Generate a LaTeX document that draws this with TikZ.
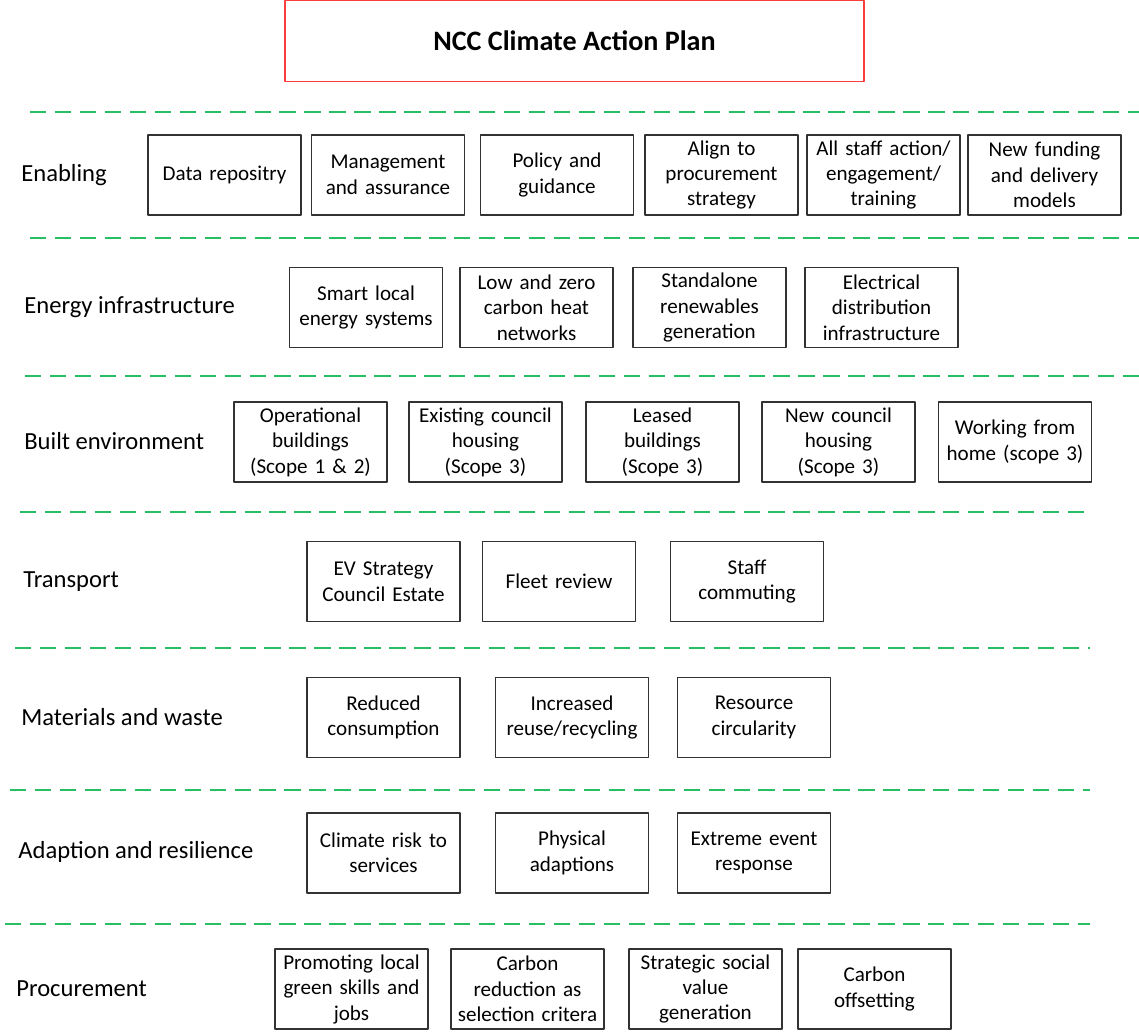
\documentclass[tikz,border=0pt]{standalone}
\usepackage{fontspec}
\setmainfont{Carlito}
\usepackage{tikz}
\definecolor{sepgreen}{RGB}{40,190,100}
\definecolor{titlered}{RGB}{250,60,60}
\definecolor{boxgray}{RGB}{50,50,50}
\tikzset{
	item/.style={draw=boxgray,line width=1pt,minimum width=3.06cm,minimum height=1.6cm,text width=2.9cm,align=center,inner sep=0pt,font=\fontsize{12}{14.5}\selectfont},
	rowlabel/.style={anchor=west,inner sep=0pt,font=\fontsize{14}{16}\selectfont},
	sepline/.style={draw=sepgreen,line width=1.2pt,dash pattern=on 9.3pt off 4.9pt},
}

\begin{document}
\begin{tikzpicture}[line join=round,x=0.02cm,y=-0.02cm]
	\useasboundingbox (0,0) rectangle (1139,1031);
	\node[draw=titlered,line width=1.1pt,minimum width=11.58cm,minimum height=1.62cm,inner sep=0pt,font=\fontsize{16}{19}\selectfont\bfseries] (title) at (574.5,41) {NCC Climate Action Plan};
	% separators
	\foreach \y/\xa/\xb in {112/30/1139, 238/30/1139, 376/25/1139, 512/20/1085, 648/15/1090, 790/10/1090, 924/5/1090}
	\draw[sepline] (\xa,\y) -- (\xb,\y);
	% row names
	\node[rowlabel] (lenab) at (21,175) {Enabling};
	\node[rowlabel] (lener) at (24,307) {Energy infrastructure};
	\node[rowlabel] (lbuilt) at (24,441) {Built environment};
	\node[rowlabel] (ltrans) at (23,582) {Transport};
	\node[rowlabel] (lmat) at (21,717) {Materials and waste};
	\node[rowlabel] (ladapt) at (18,852) {Adaption and resilience};
	\node[rowlabel] (lproc) at (16,989) {Procurement};
	% enabling
	\foreach \cx/\txt [count=\i] in {224.5/{Data repositry}, 388/{Management\\and assurance}, 557/{Policy and\\guidance}, 721.5/{Align to\\procurement\\strategy}, 883.5/{All staff action/\\engagement/\\training}, 1044.5/{New funding\\and delivery\\models}}
	\node[item] (en\i) at (\cx,175) {\txt};
	% energy infrastructure
	\foreach \cx/\txt [count=\i] in {366/{Smart local\\energy systems}, 536.5/{Low and zero\\carbon heat\\networks}, 709.5/{Standalone\\renewables\\generation}, 881.5/{Electrical\\distribution\\infrastructure}}
	\node[item] (ei\i) at (\cx,307.5) {\txt};
	% built environment
	\foreach \cx/\txt [count=\i] in {310.5/{Operational\\buildings\\(Scope 1 \& 2)}, 485.5/{Existing council\\housing\\(Scope 3)}, 662.5/{Leased\\buildings\\(Scope 3)}, 838.5/{New council\\housing\\(Scope 3)}, 1015/{Working from\\home (scope 3)}}
	\node[item] (be\i) at (\cx,442) {\txt};
	% transport
	\foreach \cx/\txt [count=\i] in {383.5/{EV Strategy\\Council Estate}, 559/{Fleet review}, 747/{Staff\\commuting}}
	\node[item] (tr\i) at (\cx,581.5) {\txt};
	% materials and waste
	\foreach \cx/\txt [count=\i] in {383.5/{Reduced\\consumption}, 572/{Increased\\reuse/recycling}, 754/{Resource\\circularity}}
	\node[item] (mw\i) at (\cx,717.5) {\txt};
	% adaption and resilience
	\foreach \cx/\txt [count=\i] in {383.5/{Climate risk to\\services}, 572/{Physical\\adaptions}, 754/{Extreme event\\response}}
	\node[item] (ar\i) at (\cx,853) {\txt};
	% procurement
	\foreach \cx/\txt [count=\i] in {351.5/{Promoting local\\green skills and\\jobs}, 527.5/{Carbon\\reduction as\\selection critera}, 705.5/{Strategic social\\value\\generation}, 874.5/{Carbon\\offsetting}}
	\node[item] (pr\i) at (\cx,989) {\txt};
\end{tikzpicture}
\end{document}
